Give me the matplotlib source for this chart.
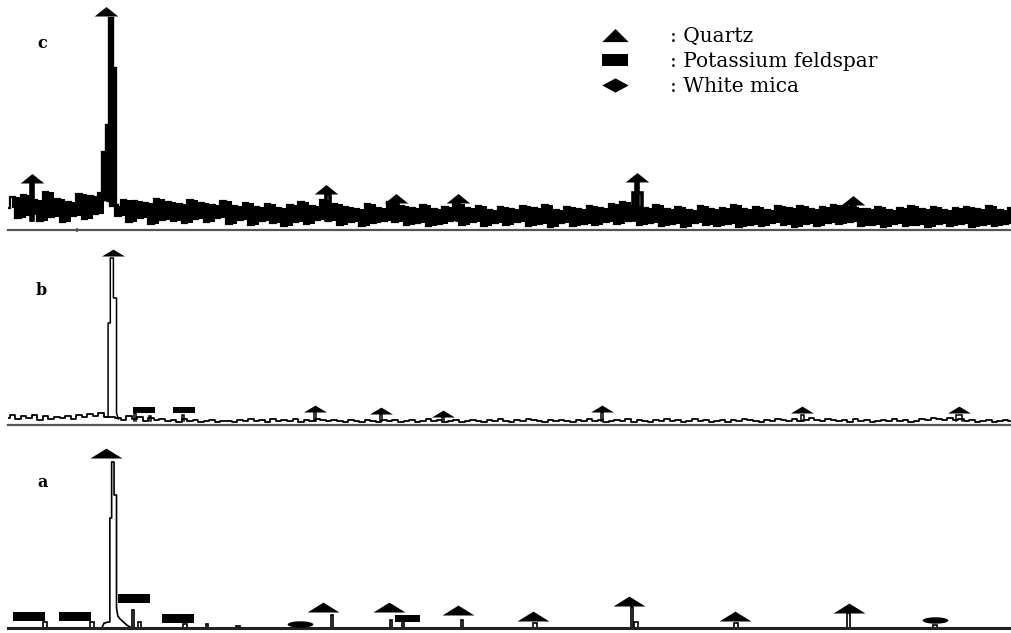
import numpy as np
import matplotlib.pyplot as plt
from matplotlib.lines import Line2D

# 2-theta window of the three scans (deg)
tt_min, tt_max = 22.05, 67.25

# ---------------- sample c (top) ----------------
# background counts, 0.25 deg steps from 22.0 deg
c_noise = [22, 33, 12, 35, 15, 30, 9, 38, 13, 31,
           8, 28, 14, 36, 11, 34, 16, 37, 30, 24,
           14, 30, 8, 29, 12, 27, 6, 31, 10, 28,
           9, 26, 7, 30, 11, 27, 8, 25, 12, 29,
           6, 24, 10, 27, 5, 23, 9, 26, 7, 22,
           4, 25, 8, 28, 6, 24, 10, 30, 9, 26,
           5, 23, 8, 21, 4, 26, 7, 22, 9, 28,
           8, 24, 5, 22, 7, 25, 4, 21, 6, 23,
           9, 26, 5, 22, 8, 24, 4, 20, 7, 23,
           5, 21, 8, 24, 4, 22, 6, 25, 3, 20,
           7, 23, 4, 21, 6, 24, 5, 22, 8, 26,
           6, 28, 9, 24, 5, 22, 7, 25, 4, 21,
           6, 23, 3, 20, 7, 24, 5, 21, 4, 22,
           6, 25, 3, 21, 5, 23, 4, 20, 7, 24,
           5, 22, 3, 24, 6, 21, 4, 23, 7, 25,
           6, 24, 8, 22, 4, 21, 5, 23, 3, 20,
           6, 22, 4, 24, 5, 21, 3, 23, 6, 20,
           4, 22, 6, 23, 3, 21, 5, 24, 4, 20,
           6, 22]
c_main_x = [26.25, 26.29, 26.29, 26.45, 26.45, 26.58, 26.58, 26.74, 26.74, 26.87, 26.87, 26.95]
c_main_y = [30, 30, 78, 78, 105, 105, 212, 212, 162, 162, 25, 25]
c_peak_pos = [23.13, 36.47, 39.53, 42.33, 50.40, 50.40, 60.13]
c_peak_int = [47, 36, 28, 28, 37, 49, 26]
c_peak_wid = [0.06, 0.08, 0.08, 0.06, 0.20, 0.05, 0.08]
c_quartz_x = [23.13, 26.47, 36.40, 39.53, 42.33, 50.40, 60.13]
c_quartz_y = [47, 214, 36, 27, 27, 48, 25]

# ---------------- sample b (middle) ----------------
b_noise = [7, 10, 6, 9, 7, 10, 5, 9, 6, 8,
           7, 9, 6, 10, 8, 11, 9, 12, 8, 8,
           7, 5, 9, 6, 8, 4, 7, 5, 6, 4,
           5, 3, 6, 4, 5, 3, 4, 5, 3, 4,
           4, 3, 5, 4, 6, 4, 5, 3, 6, 4,
           5, 4, 6, 3, 5, 4, 6, 5, 4, 5,
           4, 3, 5, 4, 3, 5, 4, 3, 5, 4,
           5, 3, 4, 5, 3, 4, 6, 4, 5, 3,
           4, 5, 3, 4, 5, 4, 3, 5, 4, 6,
           4, 3, 5, 4, 6, 5, 4, 3, 5, 4,
           5, 4, 3, 5, 4, 6, 4, 5, 3, 4,
           5, 4, 6, 3, 5, 4, 3, 5, 4, 6,
           4, 5, 3, 4, 6, 4, 5, 3, 4, 5,
           3, 5, 4, 6, 5, 4, 3, 5, 4, 6,
           5, 4, 6, 4, 5, 7, 5, 4, 6, 5,
           4, 5, 3, 6, 4, 5, 3, 4, 5, 4,
           6, 4, 5, 3, 4, 6, 5, 7, 6, 5,
           7, 5, 6, 4, 5, 3, 4, 5, 3, 4,
           5, 4]
b_main_x = [26.48, 26.56, 26.56, 26.66, 26.66, 26.80, 26.80, 26.83, 26.83, 26.94, 26.94, 27.02]
b_main_y = [8, 8, 102, 102, 167, 167, 127, 127, 127, 127, 12, 6]
b_peak_pos = [27.77, 28.45, 29.94, 35.89, 38.86, 41.66, 48.82, 57.84, 64.91]
b_peak_int = [12, 9, 10, 13, 11, 8, 13, 10, 10]
b_peak_wid = [0.06, 0.06, 0.06, 0.05, 0.05, 0.06, 0.05, 0.06, 0.15]
b_quartz_x = [26.78, 35.89, 38.86, 41.66, 48.82, 57.84, 64.91]
b_quartz_y = [169, 13, 11, 8, 13, 12, 12]
b_feld_x = [28.16, 30.00]
b_feld_y = [12, 12]

# ---------------- sample a (bottom) ----------------
a_main_x = [26.30, 26.38, 26.42, 26.55, 26.64, 26.64, 26.72, 26.72, 26.83, 26.83, 26.94, 26.94,
            27.00, 27.10, 27.25, 27.40, 27.55]
a_main_y = [1, 5, 5, 6, 6, 110, 110, 166, 166, 133, 133, 20, 12, 9, 6, 3, 1]
a_peak_pos = [23.72, 25.84, 27.68, 27.98, 30.03, 31.02, 32.42, 36.65, 39.30, 39.85,
              42.51, 45.80, 50.17, 50.35, 54.85, 59.93, 63.83]
a_peak_int = [6, 6, 18, 6, 4, 4, 2, 13, 8, 8, 8, 5, 21, 6, 5, 15, 3]
a_peak_wid = [0.08, 0.08, 0.06, 0.06, 0.08, 0.06, 0.10, 0.05, 0.05, 0.05,
              0.06, 0.10, 0.06, 0.08, 0.10, 0.07, 0.10]
a_quartz_x = [26.47, 36.25, 39.22, 42.33, 45.71, 50.04, 54.82, 59.95]
a_quartz_y = [170, 16, 16, 13, 7, 22, 7, 15]
a_feld_x = [23.00, 25.07, 27.73, 29.69]
a_feld_y = [7, 7, 25, 5]
a_feld_small_x = [40.02]
a_feld_small_y = [6]
a_mica_x = [35.19, 63.83]
a_mica_y = [4, 8]

legend_labels = [': Quartz', ': Potassium feldspar', ': White mica']

# marker shapes (flattened, base at the data point)
tri_c = [(-1, 0), (1, 0), (0, 0.8), (-1, 0)]
tri_a = [(-1, 0), (1, 0), (0, 0.62), (-1, 0)]
tri_b = [(-1, 0), (1, 0), (0, 0.6), (-1, 0)]
rect_flat = [(-1, 0), (1, 0), (1, 0.55), (-1, 0.55), (-1, 0)]
t = np.linspace(0, 2 * np.pi, 40)
ellipse = list(zip(np.cos(t), 0.25 * np.sin(t)))
tri_leg = [(-1, -0.5), (1, -0.5), (0, 0.5), (-1, -0.5)]
rect_leg = [(-1, -0.46), (1, -0.46), (1, 0.46), (-1, 0.46), (-1, -0.46)]
dia_leg = [(-1, 0), (0, 0.54), (1, 0), (0, -0.54), (-1, 0)]

W, H = 1011, 633
fig = plt.figure(figsize=(W / 100, H / 100), dpi=100)


def panel(base_px, height_px, spine_color):
    ax = fig.add_axes([8 / W, 1 - base_px / H, 1003 / W, height_px / H])
    ax.set_xlim(tt_min, tt_max)
    ax.set_ylim(0, height_px)
    for s in ['top', 'left', 'right']:
        ax.spines[s].set_visible(False)
    ax.spines['bottom'].set_color(spine_color)
    ax.spines['bottom'].set_linewidth(1.6)
    ax.set_xticks([])
    ax.set_yticks([])
    ax.patch.set_alpha(0)
    return ax


def pulses(ax, pos, hgt, wid, base, lw):
    for p, h, w in zip(pos, hgt, wid):
        ax.plot([p - w, p - w, p + w, p + w], [base, h, h, base], color='k', lw=lw,
                solid_joinstyle='miter')


def marks(ax, x, y, shape, ms):
    ax.plot(x, y, ls='none', marker=shape, ms=ms, color='k', mew=0, clip_on=False, zorder=5)


# c : noisy scan drawn as a dense band between neighbouring counts
ax_c = panel(230, 230, '#555555')
xc = np.linspace(22.0, 67.25, len(c_noise))
cn = np.array(c_noise)
ax_c.fill_between(xc[1:], np.minimum(cn[:-1], cn[1:]), np.maximum(cn[:-1], cn[1:]),
                  step='mid', color='k', lw=0)
ax_c.plot(xc, c_noise, color='k', lw=1.6, drawstyle='steps-mid', solid_joinstyle='miter')
ax_c.fill(c_main_x, c_main_y, color='k', lw=0)
ax_c.plot(c_main_x, c_main_y, color='k', lw=2.4, solid_joinstyle='miter')
pulses(ax_c, c_peak_pos, c_peak_int, c_peak_wid, 10, 2.6)
marks(ax_c, c_quartz_x, c_quartz_y, tri_c, 17)
ax_c.set_xticks([25.16])
ax_c.tick_params(axis='x', length=3, width=1.2, color='#555555', labelbottom=False, direction='inout')

# b
ax_b = panel(425, 190, '#555555')
xb = np.linspace(22.0, 67.25, len(b_noise))
ax_b.plot(xb, b_noise, color='k', lw=1.3, drawstyle='steps-mid')
ax_b.plot(b_main_x, b_main_y, color='k', lw=1.1)
pulses(ax_b, b_peak_pos, b_peak_int, b_peak_wid, 4, 1.1)
marks(ax_b, b_quartz_x, b_quartz_y, tri_b, 16.5)
marks(ax_b, b_feld_x, b_feld_y, rect_flat, 16.5)

# a
ax_a = panel(628, 190, '#222222')
ax_a.spines['bottom'].set_linewidth(2.2)
ax_a.plot(a_main_x, a_main_y, color='k', lw=1.2)
pulses(ax_a, a_peak_pos, a_peak_int, a_peak_wid, 1, 1.2)
marks(ax_a, a_quartz_x, a_quartz_y, tri_a, 23)
marks(ax_a, a_feld_x, a_feld_y, rect_flat, 23)
marks(ax_a, a_feld_small_x, a_feld_small_y, rect_flat, 18)
marks(ax_a, a_mica_x, a_mica_y, ellipse, 18.5)

# panel letters
for lab, xp, yp in [('c', 37, 48), ('b', 36, 295), ('a', 37, 487)]:
    fig.text(xp / W, 1 - yp / H, lab, family='DejaVu Serif', weight='bold', size=11.5,
             ha='left', va='baseline')

handles = [Line2D([], [], ls='none', marker=m, ms=19, color='k', mew=0)
           for m in (tri_leg, rect_leg, dia_leg)]
fig.legend(handles, legend_labels, loc='upper left', bbox_to_anchor=(601 / W, 1 - 27 / H),
           frameon=False, prop=dict(family='DejaVu Serif', size=14.5),
           handlelength=1.35, handletextpad=2.1, labelspacing=0.3,
           borderpad=0, borderaxespad=0)

fig.savefig('out.png', dpi=100)
